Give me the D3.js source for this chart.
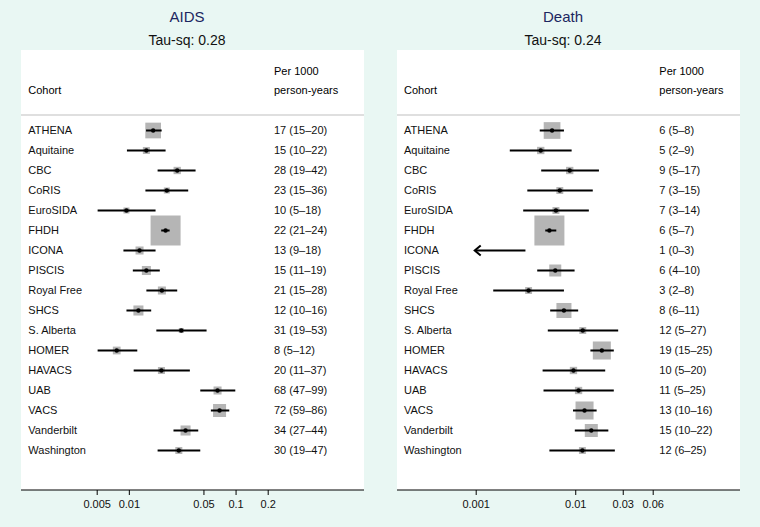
<!DOCTYPE html>
<html>
<head>
<meta charset="utf-8">
<script src="https://cdn.jsdelivr.net/npm/d3@7"></script>
<style>
  body { margin: 0; background: #e9f7f3; }
  svg { display: block; font-family: "Liberation Sans", Arial, Helvetica, sans-serif; }
</style>
</head>
<body>
<div class="forest"></div>
<script>
// cohorts, shared by both panels
const cohorts = ['ATHENA', 'Aquitaine', 'CBC', 'CoRIS', 'EuroSIDA', 'FHDH', 'ICONA', 'PISCIS',
  'Royal Free', 'SHCS', 'S. Alberta', 'HOMER', 'HAVACS', 'UAB', 'VACS', 'Vanderbilt', 'Washington'];

// AIDS: rate per 1000 person-years, 95% CI, weight (%)
const aidsRate = [16.9, 14.6, 28.4, 22.7, 9.5, 22.1, 12.6, 14.6, 20.4, 12.3, 31.0, 7.7, 20.2, 67.8, 70.8, 34.0, 29.4];
const aidsLow  = [14.5, 9.6, 18.6, 14.3, 5.1, 20.1, 8.9, 10.9, 14.6, 9.5, 18.1, 5.1, 11.1, 46.7, 58.7, 26.2, 18.6];
const aidsHigh = [20.3, 22.1, 42.2, 36.0, 17.8, 24.1, 17.8, 19.5, 28.4, 16.2, 53.5, 12.0, 37.3, 99.4, 87.3, 44.7, 46.7];
const aidsWeight = [11.5, 2.3, 2.5, 1.7, 1.7, 42.0, 3.0, 3.8, 3.0, 4.7, 1.2, 2.8, 2.3, 3.0, 7.9, 4.7, 2.3];
const aidsLabels = ['17 (15\u201320)', '15 (10\u201322)', '28 (19\u201342)', '23 (15\u201336)', '10 (5\u201318)',
  '22 (21\u201324)', '13 (9\u201318)', '15 (11\u201319)', '21 (15\u201328)', '12 (10\u201316)', '31 (19\u201353)',
  '8 (5\u201312)', '20 (11\u201337)', '68 (47\u201399)', '72 (59\u201386)', '34 (27\u201344)', '30 (19\u201347)'];
const aidsTicks = [0.005, 0.01, 0.05, 0.1, 0.2];

// Death
const deathRate = [5.85, 4.5, 8.8, 7.0, 6.4, 5.5, 0.6, 6.3, 3.4, 7.7, 11.9, 18.5, 9.6, 10.8, 12.4, 14.5, 11.8];
const deathLow  = [4.4, 2.2, 4.55, 3.3, 3.0, 5.0, 0.1, 4.15, 1.5, 5.6, 5.3, 14.2, 4.7, 4.8, 9.5, 9.9, 5.5];
const deathHigh = [7.7, 9.2, 17.3, 15.0, 13.7, 6.45, 3.16, 9.85, 7.7, 10.7, 27.0, 24.4, 20.0, 24.4, 16.4, 21.5, 25.0];
const deathWeight = [9.9, 1.9, 1.9, 1.7, 1.7, 31.9, 0.5, 5.1, 1.7, 8.0, 1.7, 11.5, 1.9, 1.9, 11.5, 6.0, 1.7];
const deathLabels = ['6 (5\u20138)', '5 (2\u20139)', '9 (5\u201317)', '7 (3\u201315)', '7 (3\u201314)', '6 (5\u20137)',
  '1 (0\u20133)', '6 (4\u201310)', '3 (2\u20138)', '8 (6\u201311)', '12 (5\u201327)', '19 (15\u201325)',
  '10 (5\u201320)', '11 (5\u201325)', '13 (10\u201316)', '15 (10\u201322)', '12 (6\u201325)'];
const deathTicks = [0.001, 0.01, 0.03, 0.06];

const W = 760, H = 527;
const boxTop = 50, boxBottom = 490, boxWidth = 343;

const svg = d3.select('.forest').append('svg').attr('width', W).attr('height', H);

function drawPanel(p) {
  const g = svg.append('g').attr('transform', 'translate(' + p.left + ',0)');
  const rows = cohorts.map((c, i) => ({
    name: c, rate: p.rate[i] / 1000, low: p.low[i] / 1000, high: p.high[i] / 1000,
    weight: p.weight[i], label: p.labels[i]
  }));

  const x = d3.scaleLog().domain(p.domain).range(p.range);
  const y = d3.scalePoint().domain(cohorts).range([130.5, 450.5]);
  const size = d3.scaleSqrt().domain([0, d3.max(p.weight)]).range([0, 30]);
  const minX = d3.min(p.ticks);

  g.append('rect').attr('x', 0).attr('y', boxTop)
    .attr('width', boxWidth).attr('height', boxBottom - boxTop).attr('fill', '#fff');

  // titles
  svg.append('text').attr('x', p.left + p.titleX).attr('y', 21.7)
    .attr('text-anchor', 'middle').attr('font-size', 15).attr('fill', '#1c2660').text(p.title);
  svg.append('text').attr('x', p.left + p.titleX).attr('y', 44.5)
    .attr('text-anchor', 'middle').attr('font-size', 14).attr('fill', '#111').text(p.tau);

  // header
  g.append('text').attr('x', p.nameX).attr('y', 94.3).attr('font-size', 11).text('Cohort');
  g.append('text').attr('x', p.valueX).attr('y', 74.5).attr('font-size', 11).text('Per 1000');
  g.append('text').attr('x', p.valueX).attr('y', 94.3).attr('font-size', 11).text('person-years');
  g.append('line').attr('x1', 0).attr('x2', boxWidth).attr('y1', 115).attr('y2', 115)
    .attr('stroke', '#d4d4d4').attr('stroke-width', 1.5);

  const row = g.selectAll('.row').data(rows).enter().append('g').attr('class', 'row');

  row.append('text').attr('x', p.nameX).attr('y', d => y(d.name)).attr('dy', '0.35em')
    .attr('font-size', 11).attr('fill', '#111').text(d => d.name);
  row.append('text').attr('x', p.valueX).attr('y', d => y(d.name)).attr('dy', '0.35em')
    .attr('font-size', 11).attr('fill', '#111').text(d => d.label);

  const shown = row.filter(d => d.rate >= minX);
  shown.append('rect')
    .attr('x', d => x(d.rate) - size(d.weight) / 2).attr('y', d => y(d.name) - size(d.weight) / 2)
    .attr('width', d => size(d.weight)).attr('height', d => size(d.weight))
    .attr('fill', '#b5b5b5');

  row.append('line')
    .attr('x1', d => x(Math.max(d.low, minX))).attr('x2', d => x(d.high))
    .attr('y1', d => y(d.name)).attr('y2', d => y(d.name))
    .attr('stroke', '#000').attr('stroke-width', 2);

  // open arrowhead where the CI runs off the left of the scale
  row.filter(d => d.low < minX).append('path')
    .attr('d', d => {
      const tx = x(minX) - 1, ty = y(d.name);
      return 'M' + (tx + 6) + ',' + (ty - 5) + 'L' + tx + ',' + ty + 'L' + (tx + 6) + ',' + (ty + 5);
    })
    .attr('fill', 'none').attr('stroke', '#000').attr('stroke-width', 2);

  shown.append('circle').attr('cx', d => x(d.rate)).attr('cy', d => y(d.name))
    .attr('r', 2.2).attr('fill', '#000');

  // x axis
  g.append('line').attr('x1', 0).attr('x2', boxWidth).attr('y1', boxBottom).attr('y2', boxBottom)
    .attr('stroke', '#000').attr('stroke-width', 1);
  const axis = g.append('g').attr('transform', 'translate(0,' + boxBottom + ')')
    .call(d3.axisBottom(x).tickValues(p.ticks).tickFormat(d => String(d))
      .tickSize(5).tickSizeOuter(0).tickPadding(5));
  axis.select('.domain').remove();
  axis.selectAll('text').attr('font-size', 11).attr('fill', '#111')
    .attr('font-family', '"Liberation Sans", Arial, sans-serif');
  axis.selectAll('line').attr('stroke-width', 1);
}

drawPanel({
  left: 21, title: 'AIDS', tau: 'Tau-sq: 0.28', titleX: 166,
  rate: aidsRate, low: aidsLow, high: aidsHigh, weight: aidsWeight, labels: aidsLabels,
  ticks: aidsTicks, domain: [0.005, 0.2], range: [75.7, 246.7], nameX: 7.3, valueX: 253
});
drawPanel({
  left: 397, title: 'Death', tau: 'Tau-sq: 0.24', titleX: 166,
  rate: deathRate, low: deathLow, high: deathHigh, weight: deathWeight, labels: deathLabels,
  ticks: deathTicks, domain: [0.001, 0.06], range: [78.7, 255.7], nameX: 7, valueX: 262.3
});
</script>
</body>
</html>
